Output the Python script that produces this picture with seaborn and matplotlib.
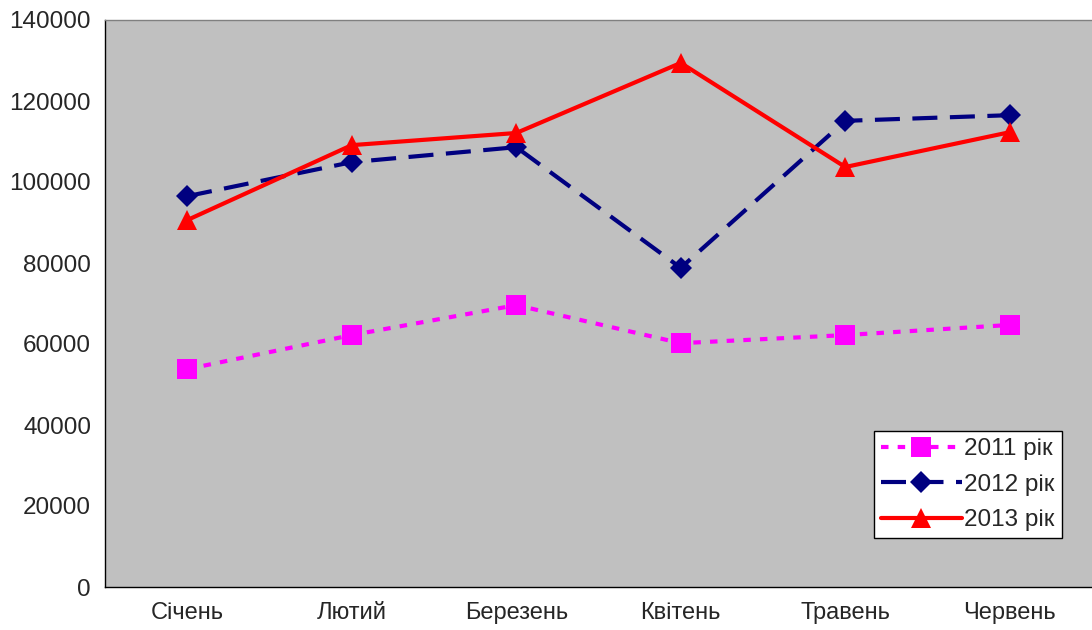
import numpy as np
import pandas as pd
import seaborn as sns
import matplotlib.pyplot as plt

months = ['Січень', 'Лютий', 'Березень', 'Квітень', 'Травень', 'Червень']
y2011 = [53800, 62200, 69600, 60200, 62200, 64700]
y2012 = [96500, 104900, 108600, 78800, 115100, 116500]
y2013 = [90600, 109100, 112100, 129400, 103700, 112300]

sns.set_style('white')
plt.rcParams['font.family'] = ['Liberation Sans', 'DejaVu Sans']

fig = plt.figure(figsize=(10.92, 6.30), dpi=100)
ax = fig.add_axes([105 / 1092, 43 / 630, 987 / 1092, 567 / 630])
ax.set_facecolor('#C0C0C0')

x = np.arange(len(months))
sns.lineplot(x=x, y=y2011, ax=ax, color='#FF00FF', linewidth=3, linestyle=(0, (1.8, 2.2)),
             marker='s', markersize=14, markeredgewidth=0, label='2011 рік')
sns.lineplot(x=x, y=y2012, ax=ax, color='#000080', linewidth=3, linestyle=(0, (6, 3)),
             marker='D', markersize=11, markeredgewidth=0, label='2012 рік')
sns.lineplot(x=x, y=y2013, ax=ax, color='#FF0000', linewidth=3, linestyle='-',
             marker='^', markersize=14, markeredgewidth=0, label='2013 рік')

ax.set_xlim(-0.5, 5.5)
ax.set_ylim(0, 140000)
ax.set_yticks(range(0, 140001, 20000))
ax.set_yticklabels([str(v) for v in range(0, 140001, 20000)], fontsize=17.5)
ax.set_xticks(np.arange(-0.5, 6, 1))
ax.set_xticklabels([])
ax.set_xticks(x, minor=True)
ax.set_xticklabels(months, minor=True, fontsize=17)
ax.tick_params(axis='x', which='major', direction='out', length=6, width=1, color='black')
ax.tick_params(axis='x', which='minor', length=0, pad=11)
ax.tick_params(axis='y', direction='out', length=6, width=1, color='black', pad=4)

for side in ['left', 'bottom', 'top']:
    ax.spines[side].set_color('black')
    ax.spines[side].set_linewidth(1)
ax.spines['top'].set_color('#808080')
ax.spines['right'].set_visible(False)

leg = ax.legend(loc='upper left', bbox_to_anchor=((874 - 105) / 987, (587 - 431) / 567),
                fontsize=17.5, frameon=True, fancybox=False, handlelength=3.3,
                borderpad=0.3, labelspacing=0.55, handletextpad=0.1, borderaxespad=0)
leg.get_frame().set_edgecolor('black')
leg.get_frame().set_facecolor('white')
leg.get_frame().set_alpha(1)

plt.savefig('out.png', dpi=100)
